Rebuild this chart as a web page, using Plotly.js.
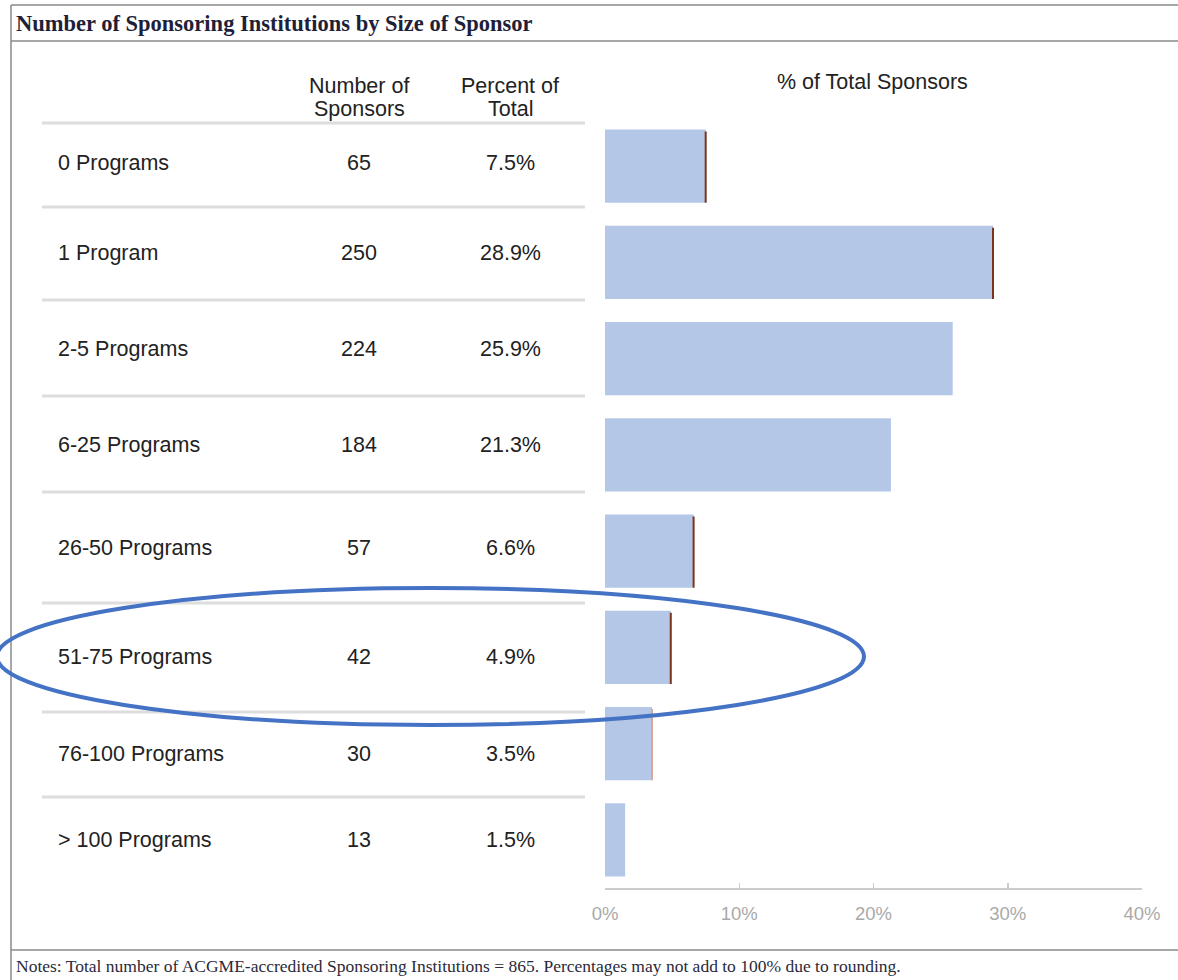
<!DOCTYPE html>
<html>
<head>
<meta charset="utf-8">
<script src="https://cdn.plot.ly/plotly-3.0.1.min.js"></script>
<style>html,body{margin:0;padding:0;background:#fff;}#chart{width:1178px;height:980px;}</style>
</head>
<body>
<div id="chart"></div>
<script>
// ---- data ----
var categories = ["0 Programs", "1 Program", "2-5 Programs", "6-25 Programs", "26-50 Programs", "51-75 Programs", "76-100 Programs", "> 100 Programs"];
var sponsorCounts = [65, 250, 224, 184, 57, 42, 30, 13];
var percentTotal = [7.5, 28.9, 25.9, 21.3, 6.6, 4.9, 3.5, 1.5];
var percentLabels = ["7.5%", "28.9%", "25.9%", "21.3%", "6.6%", "4.9%", "3.5%", "1.5%"];
var tickValues = [0, 10, 20, 30, 40];
var tickLabels = ["0%", "10%", "20%", "30%", "40%"];
var titleText = "Number of Sponsoring Institutions by Size of Sponsor";
var notesText = "Notes: Total number of ACGME-accredited Sponsoring Institutions = 865. Percentages may not add to 100% due to rounding.";

// ---- layout helpers (pixel -> paper) ----
var W = 1178, H = 980;
function px(x){ return x / W; }
function py(y){ return 1 - y / H; }

var rowTextY = [163, 253, 349, 445, 548, 657, 754, 840];
var sepY = [123, 207, 300, 396, 492, 603, 712, 797];
var edgeRows = [0, 1, 4, 5, 6];
var edgeColors = ["#7a3418", "#7a3418", "#7a3418", "#7a3418", "#d9a898"];

var sans = "Liberation Sans, Arial, sans-serif";
var serif = "Liberation Serif, Times New Roman, serif";

var annotations = [];
function addText(text, x, y, size, color, anchor, family, bold){
  annotations.push({
    text: bold ? "<b>" + text + "</b>" : text,
    x: px(x), y: py(y), xref: "paper", yref: "paper",
    xanchor: anchor, yanchor: "middle", showarrow: false,
    font: {family: family || sans, size: size, color: color}
  });
}
// title and notes
addText(titleText, 14, 24, 22.5, "#1f1f3a", "left", serif, true);
addText(notesText, 14, 966, 17.5, "#2a2a3a", "left", serif, false);
// headers
addText("Number of", 359, 86, 21.5, "#222", "center");
addText("Sponsors", 359, 109, 21.5, "#222", "center");
addText("Percent of", 510, 86, 21.5, "#222", "center");
addText("Total", 510, 109, 21.5, "#222", "center");
addText("% of Total Sponsors", 872, 82, 21.5, "#222", "center");
// rows
for (var i = 0; i < categories.length; i++){
  addText(categories[i], 56, rowTextY[i], 21.5, "#222", "left");
  addText(String(sponsorCounts[i]), 359, rowTextY[i], 21.5, "#222", "center");
  addText(percentLabels[i], 510, rowTextY[i], 21.5, "#222", "center");
}

var shapes = [];
// frame
shapes.push({type:"line", xref:"paper", yref:"paper", x0:px(11), x1:1, y0:py(5), y1:py(5), line:{color:"#8a8a8a", width:1.5}});
shapes.push({type:"line", xref:"paper", yref:"paper", x0:px(11), x1:1, y0:py(41), y1:py(41), line:{color:"#8a8a8a", width:1.5}});
shapes.push({type:"line", xref:"paper", yref:"paper", x0:px(11), x1:1, y0:py(950), y1:py(950), line:{color:"#8a8a8a", width:1.5}});
shapes.push({type:"line", xref:"paper", yref:"paper", x0:px(11), x1:px(11), y0:py(5), y1:0, line:{color:"#8a8a8a", width:1.5}});
// separators
for (var s = 0; s < sepY.length; s++){
  shapes.push({type:"line", xref:"paper", yref:"paper", x0:px(42), x1:px(585), y0:py(sepY[s]), y1:py(sepY[s]), line:{color:"#dddddd", width:3}});
}
// bar right-edge shading
for (var e = 0; e < edgeRows.length; e++){
  var r = edgeRows[e];
  shapes.push({type:"line", xref:"x", yref:"y", x0:percentTotal[r], x1:percentTotal[r], y0:r - 0.36, y1:r + 0.38, line:{color:edgeColors[e], width:2}});
}
// highlight ellipse
shapes.push({type:"circle", xref:"paper", yref:"paper", x0:px(-3), x1:px(864), y0:py(725), y1:py(588), line:{color:"#4472c4", width:4}, fillcolor:"rgba(0,0,0,0)"});

var trace = {
  type: "bar",
  orientation: "h",
  x: percentTotal,
  y: categories,
  width: 0.76,
  marker: {color: "#b4c7e7", line: {width: 0}},
  hoverinfo: "skip"
};

var layout = {
  width: W, height: H,
  margin: {l:0, r:0, t:0, b:0},
  paper_bgcolor: "#fff", plot_bgcolor: "rgba(0,0,0,0)",
  showlegend: false,
  xaxis: {
    domain: [px(605), px(1142)],
    range: [0, 40],
    tickvals: tickValues, ticktext: tickLabels,
    ticks: "inside", ticklen: 5, tickwidth: 1.5, tickcolor: "#cccccc",
    showline: true, linecolor: "#cccccc", linewidth: 2,
    showgrid: false, zeroline: false,
    ticklabelstandoff: 8,
    tickfont: {family: sans, size: 18.5, color: "#a9a9a9"},
    fixedrange: true
  },
  yaxis: {
    domain: [py(888), py(118)],
    type: "category",
    autorange: "reversed",
    visible: false,
    fixedrange: true
  },
  annotations: annotations,
  shapes: shapes
};

Plotly.newPlot("chart", [trace], layout, {displayModeBar: false, staticPlot: true});
</script>
</body>
</html>
